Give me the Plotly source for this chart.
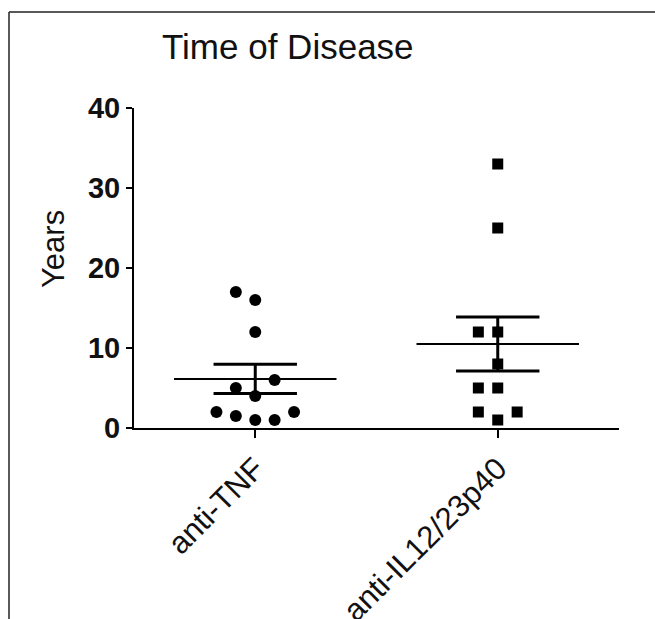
import numpy as np
import plotly.graph_objects as go

# ---- data ----
categories = ["anti-TNF", "anti-IL12/23p40"]
tnf_years = [17, 16, 12, 6, 5, 4, 2, 1.5, 1, 1, 2]
il_years = [33, 25, 12, 12, 8, 5, 5, 2, 2, 1]
y_ticks = [0, 10, 20, 30, 40]

# scatter column slots (beeswarm-style horizontal placement)
tnf_slot = [-1, 0, 0, 1, -1, 0, -2, -1, 0, 1, 2]
il_slot = [0, 0, -1, 0, 0, -1, 0, -1, 1, 0]

SLOT = 0.08
MEAN_HALF = 0.335
CAP_HALF = 0.172

fig = go.Figure()

groups = [
    (0, tnf_years, tnf_slot, "circle", 12),
    (1, il_years, il_slot, "square", 11),
]

for idx, vals, slots, sym, size in groups:
    v = np.array(vals, dtype=float)
    m = v.mean()
    sem = v.std(ddof=1) / np.sqrt(len(v))
    fig.add_trace(go.Scatter(x=[idx - MEAN_HALF, idx + MEAN_HALF], y=[m, m], mode="lines",
                             line=dict(color="black", width=2), showlegend=False, hoverinfo="skip"))
    fig.add_trace(go.Scatter(x=[idx, idx], y=[m - sem, m + sem], mode="lines",
                             line=dict(color="black", width=3), showlegend=False, hoverinfo="skip"))
    for yv in (m - sem, m + sem):
        fig.add_trace(go.Scatter(x=[idx - CAP_HALF, idx + CAP_HALF], y=[yv, yv], mode="lines",
                                 line=dict(color="black", width=3), showlegend=False, hoverinfo="skip"))
    fig.add_trace(go.Scatter(
        x=[idx + s * SLOT for s in slots], y=vals, mode="markers",
        marker=dict(symbol=sym, size=size, color="black", line=dict(width=0)),
        showlegend=False, cliponaxis=False, name=categories[idx]))

L, R, T, B = 134, 36, 108, 191
W, H = 655, 619
pw, ph = W - L - R, H - T - B

def px_x(p):
    return (p - L) / pw

def px_y(p):
    return (H - B - p) / ph

# frame (left and top edges visible)
fig.add_shape(type="line", xref="paper", yref="paper",
              x0=px_x(9), x1=px_x(9), y0=px_y(12), y1=px_y(700),
              line=dict(color="#222", width=1.5), layer="below")
fig.add_shape(type="line", xref="paper", yref="paper",
              x0=px_x(9), x1=px_x(760), y0=px_y(12), y1=px_y(12),
              line=dict(color="#222", width=1.5), layer="below")

fig.add_annotation(text="Years", xref="paper", yref="paper", x=px_x(53), y=px_y(249),
                   textangle=-90, showarrow=False, xanchor="center", yanchor="middle",
                   font=dict(size=31, color="#111"))

fig.update_layout(
    width=W, height=H,
    margin=dict(l=L, r=R, t=T, b=B, autoexpand=False),
    paper_bgcolor="white", plot_bgcolor="white",
    font=dict(family="Liberation Sans, Arial, sans-serif", color="black"),
    title=dict(text="Time of Disease", xref="container", yref="container",
               x=162 / W, xanchor="left", y=1 - 47 / H, yanchor="middle",
               font=dict(size=35, color="#111")),
    xaxis=dict(range=[-0.5, 1.5], tickmode="array", tickvals=[0, 1], ticktext=categories,
               tickangle=-45, ticks="outside", ticklen=8, tickwidth=2, tickcolor="black",
               showline=True, linecolor="black", linewidth=2, showgrid=False, zeroline=False,
               tickfont=dict(size=31, color="#111"), automargin=False),
    yaxis=dict(range=[0, 40], tickmode="array", tickvals=y_ticks,
               ticks="outside", ticklen=6, tickwidth=2, tickcolor="black",
               showline=True, linecolor="black", linewidth=2, showgrid=False, zeroline=False,
               tickfont=dict(size=29, color="#111", weight="bold"),
               automargin=False),
)

fig.write_html("out.html")
